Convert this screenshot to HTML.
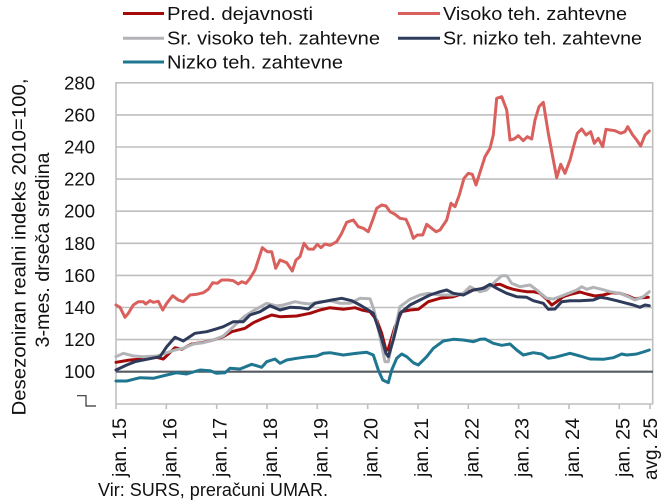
<!DOCTYPE html>
<html>
<head>
<meta charset="utf-8">
<style>
html,body{margin:0;padding:0;background:#fff;}
svg{display:block;}
text{font-family:"Liberation Sans",Arial,sans-serif;fill:#111;}
</style>
</head>
<body>
<svg width="666" height="504" viewBox="0 0 666 504" xmlns="http://www.w3.org/2000/svg">
<!-- Legend -->
<g stroke-width="3" stroke-linecap="butt">
<line x1="123" y1="13.5" x2="164" y2="13.5" stroke="#a50a0a"/>
<line x1="398" y1="13.5" x2="440" y2="13.5" stroke="#d9605d"/>
<line x1="123" y1="38.3" x2="164" y2="38.3" stroke="#b1b3b7"/>
<line x1="398" y1="38.3" x2="440" y2="38.3" stroke="#2f3b5a"/>
<line x1="123" y1="62" x2="164" y2="62" stroke="#1f7690"/>
</g>
<g font-size="18">
<text x="167" y="20" textLength="146" lengthAdjust="spacingAndGlyphs">Pred. dejavnosti</text>
<text x="443" y="20" textLength="184" lengthAdjust="spacingAndGlyphs">Visoko teh. zahtevne</text>
<text x="167" y="44.5" textLength="213" lengthAdjust="spacingAndGlyphs">Sr. visoko teh. zahtevne</text>
<text x="443" y="44.5" textLength="199" lengthAdjust="spacingAndGlyphs">Sr. nizko teh. zahtevne</text>
<text x="167" y="68.5" textLength="176" lengthAdjust="spacingAndGlyphs">Nizko teh. zahtevne</text>
</g>

<!-- Gridlines -->
<g stroke="#bfbfbf" stroke-width="1.6">
<line x1="116" y1="82.8" x2="653" y2="82.8"/>
<line x1="116" y1="114.9" x2="653" y2="114.9"/>
<line x1="116" y1="147" x2="653" y2="147"/>
<line x1="116" y1="179.1" x2="653" y2="179.1"/>
<line x1="116" y1="211.2" x2="653" y2="211.2"/>
<line x1="116" y1="243.3" x2="653" y2="243.3"/>
<line x1="116" y1="275.4" x2="653" y2="275.4"/>
<line x1="116" y1="307.5" x2="653" y2="307.5"/>
<line x1="116" y1="339.6" x2="653" y2="339.6"/>
<line x1="116" y1="404" x2="653" y2="404"/>
<line x1="116" y1="82" x2="116" y2="409"/>
<line x1="652.7" y1="82" x2="652.7" y2="404"/>
<line x1="166.3" y1="404" x2="166.3" y2="409"/>
<line x1="216.7" y1="404" x2="216.7" y2="409"/>
<line x1="267" y1="404" x2="267" y2="409"/>
<line x1="317.3" y1="404" x2="317.3" y2="409"/>
<line x1="367.7" y1="404" x2="367.7" y2="409"/>
<line x1="418" y1="404" x2="418" y2="409"/>
<line x1="468.3" y1="404" x2="468.3" y2="409"/>
<line x1="518.6" y1="404" x2="518.6" y2="409"/>
<line x1="569" y1="404" x2="569" y2="409"/>
<line x1="619.3" y1="404" x2="619.3" y2="409"/>
<line x1="650" y1="404" x2="650" y2="409"/>
</g>
<line x1="116" y1="371.7" x2="653" y2="371.7" stroke="#555a60" stroke-width="2.2"/>

<!-- axis break -->
<polyline points="77,395.7 86,395.7 86,406 96,406" fill="none" stroke="#333" stroke-width="1.2"/>

<!-- Y labels -->
<g font-size="18.5" text-anchor="end">
<text x="95" y="89.3">280</text>
<text x="95" y="121.4">260</text>
<text x="95" y="153.5">240</text>
<text x="95" y="185.6">220</text>
<text x="95" y="217.7">200</text>
<text x="95" y="249.8">180</text>
<text x="95" y="281.9">160</text>
<text x="95" y="314">140</text>
<text x="95" y="346.1">120</text>
<text x="95" y="378.2">100</text>
</g>

<!-- Y title -->
<g font-size="19" text-anchor="middle">
<text transform="translate(25.5,247) rotate(-90)" textLength="337" lengthAdjust="spacingAndGlyphs">Desezoniran realni indeks 2010=100,</text>
<text transform="translate(49,250) rotate(-90)" textLength="195" lengthAdjust="spacingAndGlyphs">3-mes. drseča sredina</text>
</g>

<!-- X labels -->
<g font-size="19.5" text-anchor="end">
<text transform="translate(126,418) rotate(-90)" textLength="59" lengthAdjust="spacingAndGlyphs">jan. 15</text>
<text transform="translate(176.3,418) rotate(-90)" textLength="59" lengthAdjust="spacingAndGlyphs">jan. 16</text>
<text transform="translate(226.7,418) rotate(-90)" textLength="59" lengthAdjust="spacingAndGlyphs">jan. 17</text>
<text transform="translate(277,418) rotate(-90)" textLength="59" lengthAdjust="spacingAndGlyphs">jan. 18</text>
<text transform="translate(327.3,418) rotate(-90)" textLength="59" lengthAdjust="spacingAndGlyphs">jan. 19</text>
<text transform="translate(377.7,418) rotate(-90)" textLength="59" lengthAdjust="spacingAndGlyphs">jan. 20</text>
<text transform="translate(428,418) rotate(-90)" textLength="59" lengthAdjust="spacingAndGlyphs">jan. 21</text>
<text transform="translate(478.3,418) rotate(-90)" textLength="59" lengthAdjust="spacingAndGlyphs">jan. 22</text>
<text transform="translate(528.6,418) rotate(-90)" textLength="59" lengthAdjust="spacingAndGlyphs">jan. 23</text>
<text transform="translate(579,418) rotate(-90)" textLength="59" lengthAdjust="spacingAndGlyphs">jan. 24</text>
<text transform="translate(629.3,418) rotate(-90)" textLength="59" lengthAdjust="spacingAndGlyphs">jan. 25</text>
<text transform="translate(657,418) rotate(-90)" textLength="62" lengthAdjust="spacingAndGlyphs">avg. 25</text>
</g>

<!-- Footer -->
<text x="98" y="496" font-size="18" textLength="230" lengthAdjust="spacingAndGlyphs">Vir: SURS, preračuni UMAR.</text>

<!-- Series -->
<g fill="none" stroke-width="3" stroke-linejoin="round" stroke-linecap="round">
<polyline stroke="#a50a0a" points="116,362.3 130,360 143.3,359 156.7,357.3 163.3,359 175,347.7 181.7,349.3 191.7,344 203.3,342.3 213.3,340 223.3,336.7 231.7,331.7 245,328.3 253.3,322.7 263.3,318.3 271.7,315 280,316.7 296.7,316 305,314.3 310,313.3 320,310 330,307.7 343.3,309.3 355,307.7 361.7,310 370,311.7 376.7,320 381.7,333.3 386,350 388,350 390,343.3 395,326.7 401.7,311.7 410,310 418.3,309.3 428.3,301.7 440,298.3 453.3,296.7 463.3,293.3 473.3,290 480,289.3 486.7,286.7 493.3,285 500,284.3 506.7,287.3 513.3,289.3 520,290.7 526.7,291.7 533.3,291.7 540,293.3 546.7,299.3 551.7,305 556.7,301.7 563.3,296.7 571.7,294 580,292 586.7,294 595,296 603.3,295 611.7,292.7 620,293.3 628.3,296 635,299 641.7,297.7 648.3,297.3"/>
<polyline stroke="#d9605d" points="116,305 120,307.3 125,317.3 128.3,313.3 133.3,305 138.3,301.7 143.3,301.7 145.7,304 150,300.7 153.3,302.3 158.3,301.3 162.7,310 166.7,303.3 172.7,295.7 178.3,300 183.3,301.7 190,295 196.7,294.3 203.3,292.7 208.3,289.3 212.7,282.7 217.3,283.3 221.7,280 228.3,280 233.3,280.7 238.3,284 241.7,281.7 246,283.3 250,278.3 255,270 258.3,260 262.3,247.7 267.3,251.7 271.7,251.7 275.7,268.3 280,260 286.7,262.7 292.3,271 296,260 300,256.7 304,243.3 308.3,249 313.3,249.3 317.3,244.3 321,247.7 325,244 330,245.3 336.7,241.7 341.7,233.3 346.7,222.3 353.3,220 358.3,226.7 363.3,228.3 368.3,231.7 372.7,220 376.7,208.3 381.7,205 386,206 390,211.7 395,214.3 400,218.3 406,219.3 410,228.3 413.3,238.3 417.3,235 422.7,235 426.7,224.3 431.7,228.3 436,231.7 440,230 446.7,220 451,203.3 455,206.7 459.3,195 464,178.3 468.3,173.3 472.3,174.3 476,185 480,172.3 485,156.7 490,148.3 493.3,135 496.7,98.3 501.7,96.7 506.7,110 510,140 514,139 518.3,135.7 523.3,140.7 527.3,136.7 531.7,139 535,120 539,106.7 543.3,102.3 548.3,133.3 552.7,156.7 556.7,177.7 560.7,164.3 565,173.3 570,160 574,145 577.3,133.3 581.7,129 586,135 590.7,131.7 594.3,143.3 598.3,138.3 602.7,146.7 606,129.3 610,130 615,130.7 620.7,133.3 625,131.7 627.7,126.7 632.7,135 636.7,140 640.7,146 645,135 649.3,131"/>
<polyline stroke="#b1b3b7" points="116,356.7 123.3,353.3 133.3,356 143.3,356.7 156.7,356 165,353.3 175,350 183.3,348.3 193.3,344 203.3,342.7 213.3,340 223.3,336 233.3,326.7 243.3,317.3 253.3,310.7 266.7,303.3 276.7,306 283.3,305 295,301.7 303.3,303.3 310,304 320,301.7 330,300.7 340,303.3 350,303.3 360,298.3 370,298.7 374,310 380,336.7 385,361.7 388.3,361.7 393.3,336.7 400,306.7 410,299.3 420,295 428.3,293.3 440,295 453.3,295 463.3,293.3 470,286.7 480,291.7 486.7,290 495,281.7 501.7,275.7 506.7,275.7 511.7,283.3 520,286.7 530,285 536.7,290 546.7,298.3 553.3,299 561.7,296 570,292.7 576.7,290 581.7,286.7 586.7,289.3 593.3,287.3 601.7,289.3 610,291.7 620,293.3 628.3,296.7 635,300 643.3,296.7 649.3,291.7"/>
<polyline stroke="#2f3b5a" points="116,370 126.7,365 135,361.7 146.7,359.3 160,356.7 166.7,346.7 175,337.3 183.3,341 195,333.3 206.7,331.7 215,329.3 223.3,326.7 233.3,321.7 243.3,321.7 250,315 260,311.7 270,305.7 280,310 290,307.3 300,307.7 308.3,309 315,303.3 323.3,301.7 331.7,300 341.7,298.3 351.7,300.7 360,305 368.3,310 373.3,313.3 380,333.3 386,353.3 388.3,356.7 393.3,340 400,313.3 410,305 420,300 430,295 440,291.7 446.7,290 453.3,293.3 463.3,295 473.3,290 483.3,288.3 490,284.3 496.7,288.3 506.7,293.3 516.7,296.7 526.7,297.3 533.3,300.7 543.3,303.3 548.3,309.3 555,309 561.7,301.7 570,300.7 580,300.7 593.3,300 600,297.3 606.7,298.3 616.7,300.7 626.7,303.3 633.3,305 640,307.3 645,305 649.3,305.7"/>
<polyline stroke="#1f7690" points="116,381 126.7,381 140,377.7 153.3,378.3 166.7,375 176.7,372.7 186.7,374 200,370 210,370.7 216.7,373.3 225,372.7 230,368.3 240,369 251.7,364.3 261.7,367.3 266.7,361.7 275,359 280,363.3 286.7,360 296.7,358.3 308.3,356.7 316.7,356 323.3,353.3 330,352.7 343.3,355 356.7,353.3 366.7,352.3 373.3,355 378.3,370 382.7,380 388.3,382.7 391.7,370 396.7,358.3 401.7,354 406.7,356.7 413.3,362.7 418.3,365 426.7,356.7 433.3,348.3 443.3,341 453.3,339.3 463.3,340 473.3,341.7 480,339.3 485,339 493.3,343.3 501.7,345.3 510,344 516.7,350 523.3,355 533.3,352.7 541.7,354 548.3,358.3 555,357.3 570,353.3 580,356 590,359 603.3,359.3 613.3,357.7 621.7,354 626.7,355 636.7,354 643.3,352 649.3,350"/>
</g>
</svg>
</body>
</html>
